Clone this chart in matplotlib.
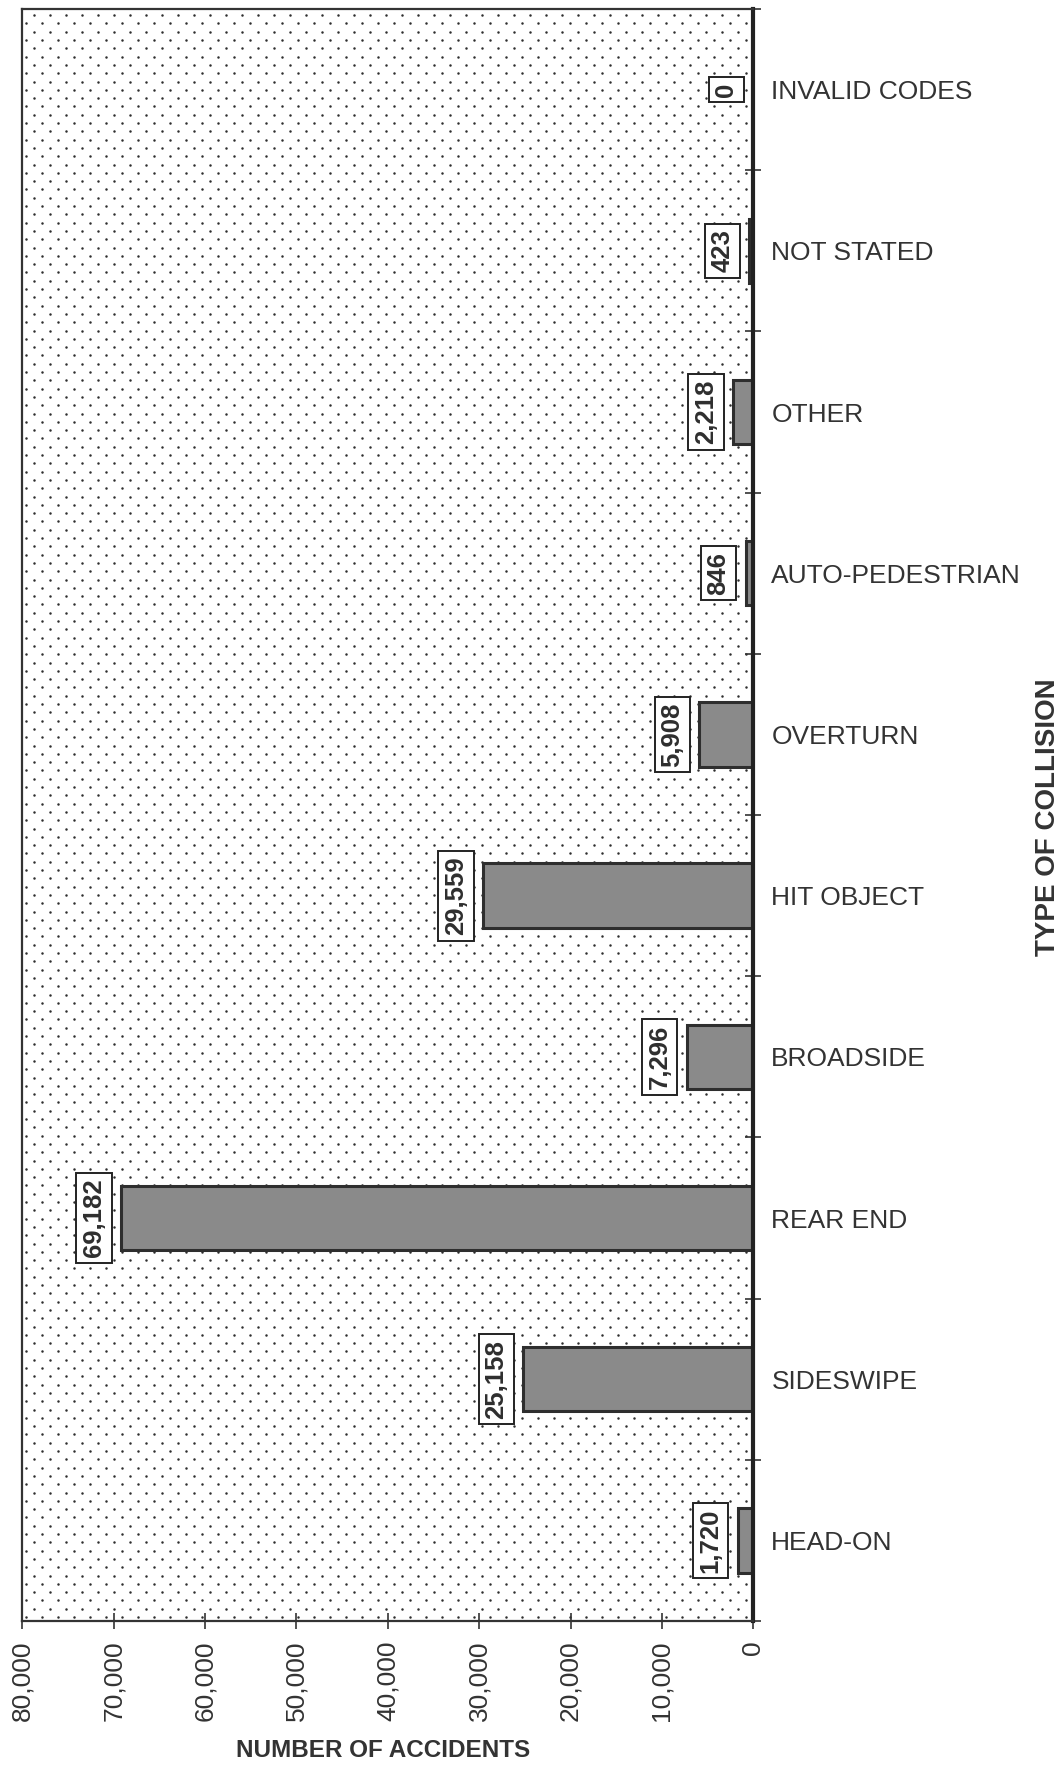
import numpy as np
import matplotlib
matplotlib.use("Agg")
import matplotlib.pyplot as plt

plt.rcParams['font.family'] = ['Liberation Sans', 'DejaVu Sans']

# collision types, bottom to top
categories = ['HEAD-ON', 'SIDESWIPE', 'REAR END', 'BROADSIDE', 'HIT OBJECT',
              'OVERTURN', 'AUTO-PEDESTRIAN', 'OTHER', 'NOT STATED', 'INVALID CODES']
accidents = [1720, 25158, 69182, 7296, 29559, 5908, 846, 2218, 423, 0]
xticks = [0, 10000, 20000, 30000, 40000, 50000, 60000, 70000, 80000]

fig = plt.figure(figsize=(10.64, 17.67), dpi=100)
ax = fig.add_axes([0.021, 0.0826, 0.687, 0.9123])

# dotted background (staggered dot grid, in axes fraction)
W, H = 731.0, 1612.0
rows = np.arange(4, H, 8.3)
px, py = [], []
for k, yy in enumerate(rows):
    start = 4 if k % 2 == 0 else 12
    xs = np.arange(start, W - 2, 16.0)
    px.extend(xs / W)
    py.extend([yy / H] * len(xs))
ax.scatter(px, py, s=3.2, color='#2e2e2e', marker='o', linewidths=0,
           transform=ax.transAxes, zorder=0, clip_on=True)

ypos = np.arange(len(categories))
ax.barh(ypos, accidents, height=0.4, color='#8a8a8a', edgecolor='#2e2e2e',
        linewidth=2.2, zorder=2)

for y, v in zip(ypos, accidents):
    ax.annotate(f'{v:,}', xy=(v, y), xytext=(-19.5, 0), textcoords='offset points',
                rotation=90, ha='center', va='center', fontsize=18.5, fontweight='bold',
                color='#2e2e2e', zorder=4,
                bbox=dict(boxstyle='square,pad=0.22', fc='white', ec='#222222', lw=1.4))

ax.set_xlim(80000, 0)
ax.set_ylim(-0.5, len(categories) - 0.5)

ax.set_xticks(xticks)
ax.set_xticklabels([f'{t:,}' for t in xticks], rotation=90, fontsize=19, color='#333333')
ax.tick_params(axis='x', direction='inout', length=12, width=1.2, pad=8, colors='#333333')

ax.yaxis.tick_right()
ax.set_yticks(np.arange(len(categories) + 1) - 0.5)
ax.set_yticklabels([])
ax.set_yticks(ypos, minor=True)
ax.set_yticklabels(categories, minor=True, fontsize=19, color='#333333')
ax.tick_params(axis='y', which='major', direction='inout', length=12, width=1.2,
               colors='#333333')
ax.tick_params(axis='y', which='minor', length=0, pad=13)

for s in ['left', 'top', 'bottom']:
    ax.spines[s].set_linewidth(1.6)
    ax.spines[s].set_color('#333333')
ax.spines['right'].set_linewidth(3)
ax.spines['right'].set_color('#222222')

fig.text(0.36, 0.0096, 'NUMBER OF ACCIDENTS', ha='center', va='center',
         fontsize=17.5, fontweight='bold', color='#333333')
fig.text(0.985, 0.5376, 'TYPE OF COLLISION', ha='center', va='center', rotation=90,
         fontsize=20, fontweight='bold', color='#333333')

fig.savefig('out.png', dpi=100)
